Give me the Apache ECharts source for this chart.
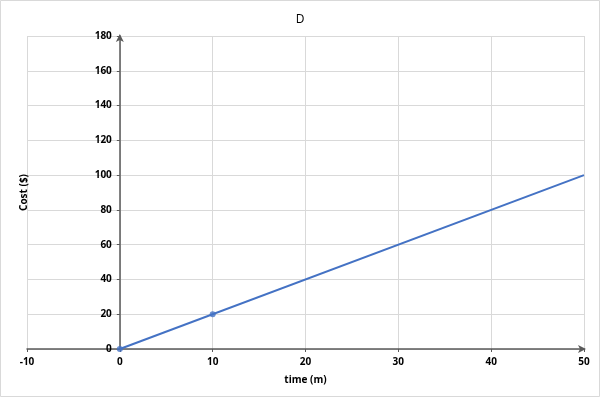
<!DOCTYPE html>
<html>
<head>
<meta charset="utf-8">
<script src="https://cdn.jsdelivr.net/npm/echarts@6/dist/echarts.min.js"></script>
<style>
html,body{margin:0;padding:0;background:#fff;}
#c{width:600px;height:397px;}
</style>
</head>
<body>
<div id="c"></div>
<script>
const titleText = "D";
const xAxisName = "time (m)";
const yAxisName = "Cost ($)";
const pointTimes = [0, 10];
const pointCosts = [0, 20];
const lineTimes = [0, 50];
const lineCosts = [0, 100];
const xTicks = { min: -10, max: 50, interval: 10 };
const yTicks = { min: 0, max: 180, interval: 20 };

const chart = echarts.init(document.getElementById('c'), null, {renderer: 'canvas'});
const font = '"Open Sans", "Liberation Sans", sans-serif';
const lineColor = '#4472C4';
const gridLeft = 27, gridRight = 16, width = 600;
const plotW = width - gridLeft - gridRight;
const yAxisShift = plotW * (0 - xTicks.min) / (xTicks.max - xTicks.min);
chart.setOption({
  animation: false,
  backgroundColor: '#fff',
  title: {
    text: titleText, left: 'center', top: 9,
    textStyle: {fontFamily: font, fontSize: 12, fontWeight: 'normal', color: '#000'}
  },
  graphic: [{
    type: 'rect', shape: {x: 0.5, y: 0.5, width: 599, height: 396},
    style: {fill: 'none', stroke: '#d9d9d9', lineWidth: 1}, silent: true, z: -1
  }],
  grid: {left: gridLeft, right: gridRight, top: 36, bottom: 48, containLabel: false},
  xAxis: {
    type: 'value', min: xTicks.min, max: xTicks.max, interval: xTicks.interval,
    name: xAxisName, nameLocation: 'middle', nameGap: 26,
    nameTextStyle: {fontFamily: font, fontSize: 10, fontWeight: 'bold', color: '#000'},
    axisLine: {onZero: false, lineStyle: {color: '#595959', width: 1.5}, symbol: ['none', 'arrow'], symbolSize: [6, 8], symbolOffset: [0, 2]},
    axisTick: {show: true, length: 3, lineStyle: {color: '#595959'}},
    axisLabel: {margin: 8, fontFamily: font, fontSize: 10, fontWeight: 'bold', color: '#000'},
    splitLine: {show: true, lineStyle: {color: '#d9d9d9', width: 1}}
  },
  yAxis: {
    type: 'value', min: yTicks.min, max: yTicks.max, interval: yTicks.interval,
    position: 'left', offset: -yAxisShift,
    name: yAxisName, nameLocation: 'middle', nameGap: yAxisShift - 2,
    nameTextStyle: {fontFamily: font, fontSize: 10, fontWeight: 'bold', color: '#000'},
    axisLine: {onZero: false, lineStyle: {color: '#595959', width: 1.5}, symbol: ['none', 'arrow'], symbolSize: [6, 8], symbolOffset: [0, 2]},
    axisTick: {show: true, length: 3, lineStyle: {color: '#595959'}},
    axisLabel: {margin: 8, fontFamily: font, fontSize: 10, fontWeight: 'bold', color: '#000'},
    splitLine: {show: true, lineStyle: {color: '#d9d9d9', width: 1}}
  },
  series: [{
    type: 'line',
    data: lineTimes.map((t, i) => [t, lineCosts[i]]),
    showSymbol: false, symbol: 'none',
    lineStyle: {color: lineColor, width: 2},
    z: 3
  }, {
    type: 'scatter',
    data: pointTimes.map((t, i) => [t, pointCosts[i]]),
    symbol: 'circle', symbolSize: 6,
    itemStyle: {color: lineColor},
    z: 4
  }]
});
</script>
</body>
</html>
